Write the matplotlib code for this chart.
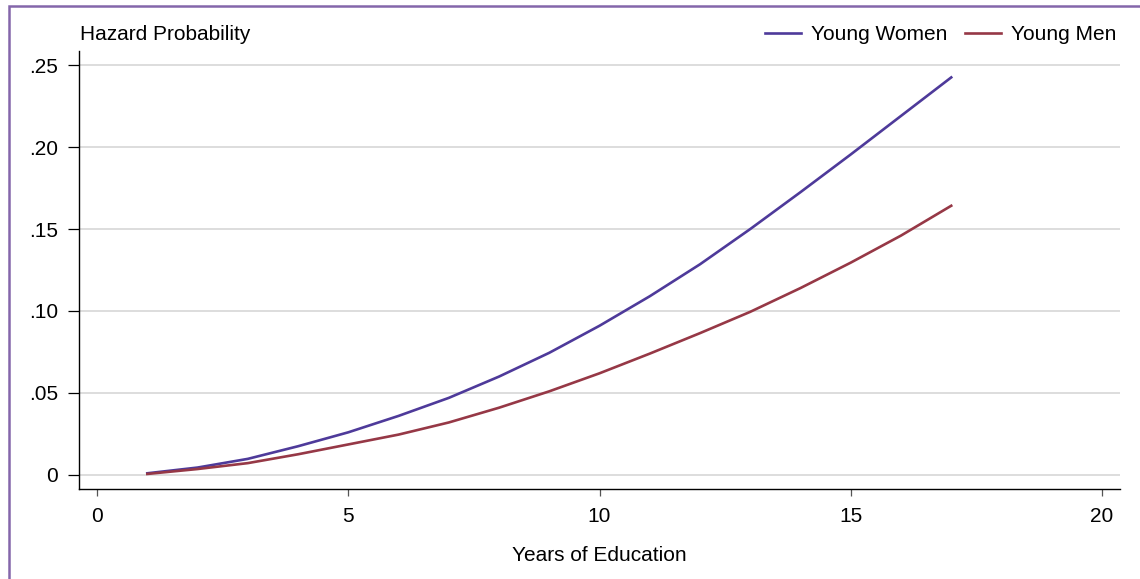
import matplotlib
matplotlib.use('Agg')
import matplotlib.pyplot as plt
from matplotlib.patches import Rectangle

plt.rcParams['font.family'] = ['Liberation Sans', 'DejaVu Sans']

# fitted hazard probabilities
years = [1, 2, 3, 4, 5, 6, 7, 8, 9, 10, 11, 12, 13, 14, 15, 16, 17]
women = [0.001, 0.0045, 0.0098, 0.0175, 0.026, 0.036, 0.047, 0.060, 0.0745, 0.091,
         0.109, 0.1285, 0.150, 0.1725, 0.1955, 0.219, 0.2425]
men = [0.0006, 0.0036, 0.0072, 0.0126, 0.0186, 0.0246, 0.032, 0.041, 0.051, 0.062,
       0.074, 0.0865, 0.0995, 0.114, 0.1295, 0.146, 0.1642]

yticks = [0, 0.05, 0.10, 0.15, 0.20, 0.25]
ylabels = ['0', '.05', '.10', '.15', '.20', '.25']
xticks = [0, 5, 10, 15, 20]

fs = 15
fig = plt.figure(figsize=(11.4, 5.79), dpi=100)
ax = fig.add_axes([0.0693, 0.1554, 0.9132, 0.7565])

ax.plot(years, women, color='#4E3A9A', lw=1.9, label='Young Women')
ax.plot(years, men, color='#963846', lw=1.9, label='Young Men')

ax.set_xlim(-0.36, 20.36)
ax.set_ylim(-0.0086, 0.2586)
ax.set_yticks(yticks)
ax.set_yticklabels(ylabels)
ax.set_xticks(xticks)
ax.grid(axis='y', color='#DDDDDD', lw=1.4)
ax.set_axisbelow(True)

for s in ['top', 'right']:
    ax.spines[s].set_visible(False)
for s in ['left', 'bottom']:
    ax.spines[s].set_linewidth(1.0)
    ax.spines[s].set_color('black')

ax.tick_params(axis='y', length=8, width=0.9, color='black', pad=7, labelsize=fs)
ax.tick_params(axis='x', length=5, width=0.9, color='#555555', pad=8, labelsize=fs)

ax.set_xlabel('Years of Education', fontsize=fs)
ax.xaxis.set_label_coords(0.5, -0.13)
fig.text(0.0702, 0.94, 'Hazard Probability', fontsize=fs, va='center', ha='left')

fig.legend(loc='center right', bbox_to_anchor=(0.979, 0.94), ncol=2, frameon=False,
           fontsize=fs, handlelength=1.75, handletextpad=0.45, columnspacing=0.85,
           borderaxespad=0, borderpad=0)

fig.patches.append(Rectangle((8.5 / 1140, -0.2), 1.5, 1.2 - 5.5 / 579, transform=fig.transFigure,
                             fill=False, edgecolor='#8466AA', lw=1.8))

fig.savefig('out.png', dpi=100)
